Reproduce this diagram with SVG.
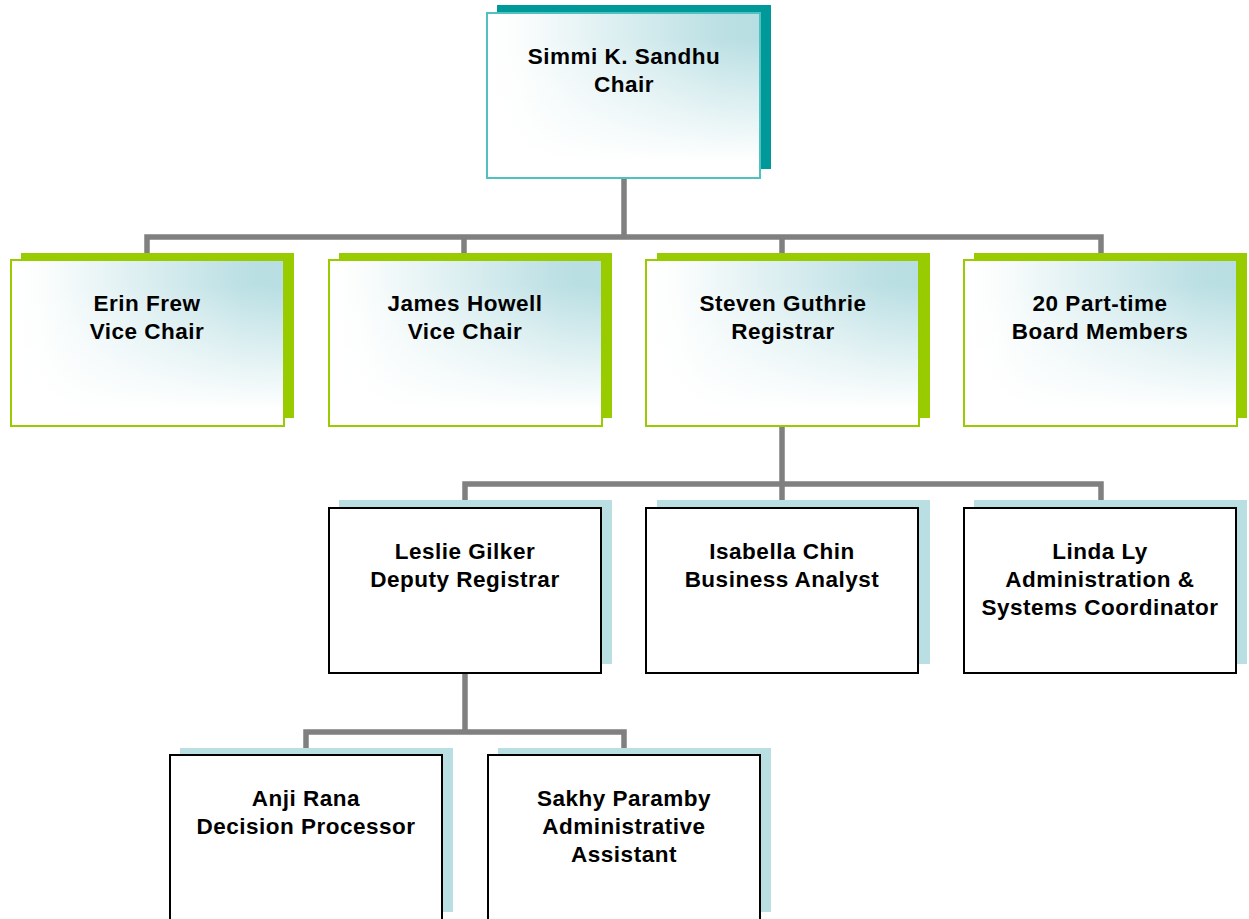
<svg xmlns="http://www.w3.org/2000/svg" width="1249" height="919" viewBox="0 0 1249 919">
<defs>
<linearGradient id="gx" x1="0" y1="0" x2="1" y2="0">
<stop offset="0" stop-color="#FFFFFF"/>
<stop offset="0.12" stop-color="#FBFDFD"/>
<stop offset="0.85" stop-color="#BCE0E4"/>
<stop offset="1" stop-color="#B7DEE2"/>
</linearGradient>
<linearGradient id="gy" x1="0" y1="0" x2="0" y2="1">
<stop offset="0.15" stop-color="#FFFFFF" stop-opacity="0"/>
<stop offset="0.9" stop-color="#FFFFFF" stop-opacity="1"/>
</linearGradient>
</defs>
<style>
text{font-family:"Liberation Sans",Arial,sans-serif;font-weight:bold;font-size:22.5px;letter-spacing:0.5px;fill:#000;text-anchor:middle}
.conn{fill:none;stroke:#808080;stroke-width:5.5;stroke-linejoin:miter;stroke-linecap:butt}
.sh-teal{fill:#009999}
.sh-green{fill:#99CC00}
.sh-blue{fill:#B9DFE3}
.gx{fill:url(#gx)}
.gy{fill:url(#gy)}
.bd-teal{fill:none;stroke:#4FC1C1;stroke-width:2}
.bd-green{fill:none;stroke:#99CC00;stroke-width:2}
.fr-plain{fill:#FFFFFF;stroke:#000000;stroke-width:2}
</style>
<rect width="1249" height="919" fill="#FFFFFF"/>
<g id="connectors">
<path class="conn" d="M624 178 V237 M147 262 V237 H1101 V262 M464 237 V262 M782 237 V262"/>
<path class="conn" d="M782 426 V484 M465 508 V484 H1101 V508 M782 484 V508"/>
<path class="conn" d="M465 673 V732 M306 755 V732 H624 V755"/>
</g>
<g id="chair">
<rect class="sh-teal" x="497" y="5" width="274" height="164"/>
<rect class="gx" x="487" y="13" width="273" height="165"/>
<rect class="gy" x="487" y="13" width="273" height="165"/>
<rect class="bd-teal" x="487" y="13" width="273" height="165"/>
<text x="624" y="64">Simmi K. Sandhu</text>
<text x="624" y="92">Chair</text>
</g>
<g id="erin">
<rect class="sh-green" x="21" y="253" width="273" height="165"/>
<rect class="gx" x="11" y="260" width="273" height="166"/>
<rect class="gy" x="11" y="260" width="273" height="166"/>
<rect class="bd-green" x="11" y="260" width="273" height="166"/>
<text x="147" y="311">Erin Frew</text>
<text x="147" y="339">Vice Chair</text>
</g>
<g id="james">
<rect class="sh-green" x="339" y="253" width="273" height="165"/>
<rect class="gx" x="329" y="260" width="273" height="166"/>
<rect class="gy" x="329" y="260" width="273" height="166"/>
<rect class="bd-green" x="329" y="260" width="273" height="166"/>
<text x="465" y="311">James Howell</text>
<text x="465" y="339">Vice Chair</text>
</g>
<g id="steven">
<rect class="sh-green" x="657" y="253" width="273" height="165"/>
<rect class="gx" x="646" y="260" width="273" height="166"/>
<rect class="gy" x="646" y="260" width="273" height="166"/>
<rect class="bd-green" x="646" y="260" width="273" height="166"/>
<text x="783" y="311">Steven Guthrie</text>
<text x="783" y="339">Registrar</text>
</g>
<g id="board">
<rect class="sh-green" x="974" y="253" width="273" height="165"/>
<rect class="gx" x="964" y="260" width="273" height="166"/>
<rect class="gy" x="964" y="260" width="273" height="166"/>
<rect class="bd-green" x="964" y="260" width="273" height="166"/>
<text x="1100" y="311">20 Part-time</text>
<text x="1100" y="339">Board Members</text>
</g>
<g id="leslie">
<rect class="sh-blue" x="339" y="500" width="273" height="164"/>
<rect class="fr-plain" x="329" y="508" width="272" height="165"/>
<text x="465" y="559">Leslie Gilker</text>
<text x="465" y="587">Deputy Registrar</text>
</g>
<g id="isabella">
<rect class="sh-blue" x="657" y="500" width="273" height="164"/>
<rect class="fr-plain" x="646" y="508" width="272" height="165"/>
<text x="782" y="559">Isabella Chin</text>
<text x="782" y="587">Business Analyst</text>
</g>
<g id="linda">
<rect class="sh-blue" x="974" y="500" width="273" height="164"/>
<rect class="fr-plain" x="964" y="508" width="272" height="165"/>
<text x="1100" y="559">Linda Ly</text>
<text x="1100" y="587">Administration &amp;</text>
<text x="1100" y="615">Systems Coordinator</text>
</g>
<g id="anji">
<rect class="sh-blue" x="180" y="748" width="273" height="164"/>
<rect class="fr-plain" x="170" y="755" width="272" height="166"/>
<text x="306" y="806">Anji Rana</text>
<text x="306" y="834">Decision Processor</text>
</g>
<g id="sakhy">
<rect class="sh-blue" x="498" y="748" width="273" height="164"/>
<rect class="fr-plain" x="488" y="755" width="272" height="166"/>
<text x="624" y="806">Sakhy Paramby</text>
<text x="624" y="834">Administrative</text>
<text x="624" y="862">Assistant</text>
</g>
</svg>
